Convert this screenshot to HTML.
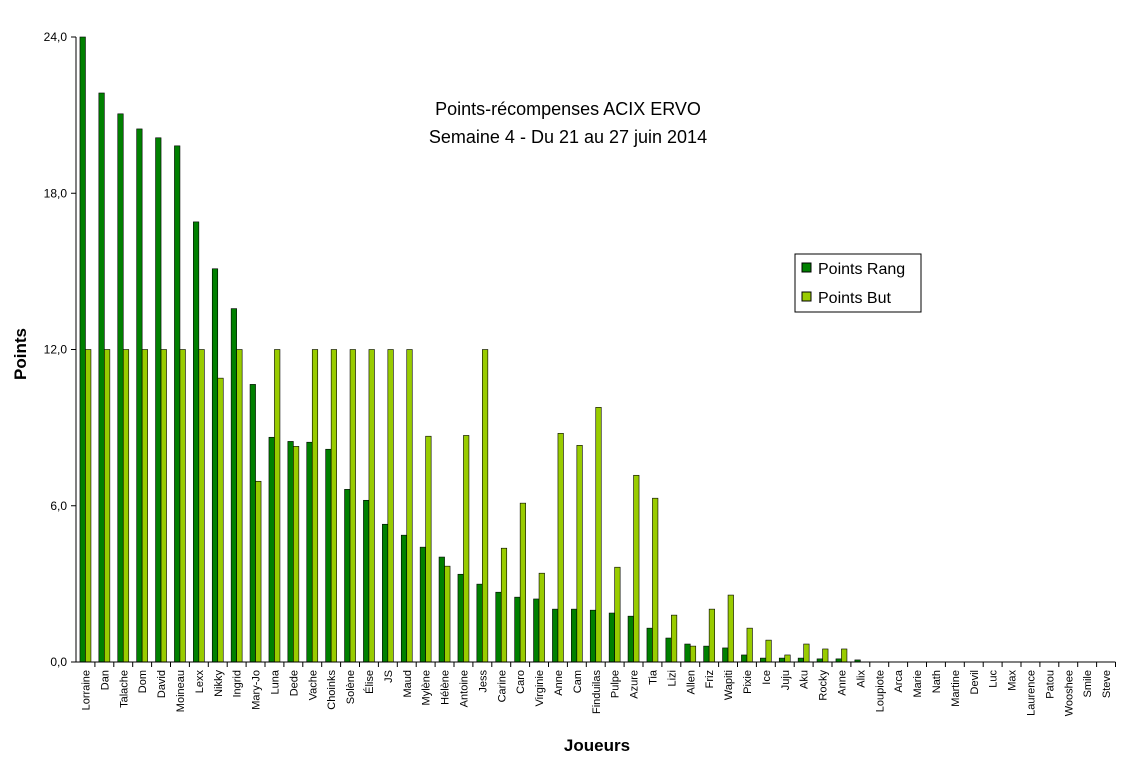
<!DOCTYPE html>
<html><head><meta charset="utf-8"><style>
body{margin:0;background:#fff;}
svg text{font-family:"Liberation Sans",Arial,sans-serif;}
</style></head><body>
<svg id="chart" width="1146" height="763" xmlns="http://www.w3.org/2000/svg">
<text x="568" y="115" font-size="18" text-anchor="middle">Points-récompenses ACIX ERVO</text>
<text x="568" y="143" font-size="18" text-anchor="middle">Semaine 4 - Du 21 au 27 juin 2014</text>
<text transform="translate(26,354) rotate(-90)" font-size="17" font-weight="bold" text-anchor="middle">Points</text>
<text x="597" y="751" font-size="17" font-weight="bold" text-anchor="middle">Joueurs</text>
<g id="plot"></g>
<g>
<rect x="795" y="254" width="126" height="58" fill="#fff" stroke="#000"/>
<rect x="802" y="263" width="9" height="9" fill="#008000" stroke="#000"/>
<text x="818" y="274" font-size="16">Points Rang</text>
<rect x="802" y="292" width="9" height="9" fill="#99cc00" stroke="#000"/>
<text x="818" y="303" font-size="16">Points But</text>
</g>
</svg>
<script>
const categories=["Lorraine","Dan","Talache","Dom","David","Moineau","Lexx","Nikky","Ingrid","Mary-Jo","Luna","Dede","Vache","Choinks","Solène","Élise","JS","Maud","Mylène","Hélène","Antoine","Jess","Carine","Caro","Virginie","Anne","Cam","Finduilas","Pulpe","Azure","Tia","Lizi","Allen","Friz","Wapiti","Pixie","Ice","Juju","Aku","Rocky","Anne","Alix","Loupiote","Arca","Marie","Nath","Martine","Devil","Luc","Max","Laurence","Patou","Wooshee","Smile","Steve"];
const pointsRang=[24,21.85,21.05,20.47,20.13,19.82,16.9,15.1,13.57,10.66,8.63,8.47,8.44,8.17,6.63,6.21,5.29,4.87,4.41,4.03,3.37,2.99,2.68,2.49,2.42,2.03,2.03,1.99,1.88,1.76,1.3,0.92,0.69,0.61,0.54,0.27,0.15,0.15,0.15,0.12,0.12,0.08,0,0,0,0,0,0,0,0,0,0,0,0,0];
const pointsBut=[12,12,12,12,12,12,12,10.9,12,6.94,12,8.28,12,12,12,12,12,12,8.67,3.68,8.7,12,4.37,6.1,3.41,8.78,8.32,9.78,3.64,7.17,6.29,1.8,0.61,2.03,2.57,1.3,0.84,0.27,0.69,0.5,0.5,0,0,0,0,0,0,0,0,0,0,0,0,0,0];
const yTicks=[0,6,12,18,24];
const yLabels=["0,0","6,0","12,0","18,0","24,0"];
const NS="http://www.w3.org/2000/svg";
const X0=76,Y0=662,YTOP=37,CW=18.9,BW=5.5;
const y=v=>Y0-(v/24)*(Y0-YTOP);
const xc=i=>X0+CW*i+CW/2;
const plot=document.getElementById('plot');
function mk(t,a){const e=document.createElementNS(NS,t);for(const k in a)e.setAttribute(k,a[k]);plot.appendChild(e);return e;}
categories.forEach((c,i)=>{
 const h1=Y0-y(pointsRang[i]);
 if(h1>0){const r=mk('rect',{x:xc(i)-BW,y:y(pointsRang[i]),width:BW,height:h1,fill:'#008000',stroke:'#000','stroke-width':0.6});
 
 }
 const h2=Y0-y(pointsBut[i]);
 if(h2>0){const r=mk('rect',{x:xc(i),y:y(pointsBut[i]),width:BW,height:h2,fill:'#99cc00',stroke:'#000','stroke-width':0.6});
 
 }
 const tk=mk('line',{x1:X0+CW*(i+1),x2:X0+CW*(i+1),y1:Y0,y2:Y0+5,stroke:'#000'});
 
 
 const t=mk('text',{transform:`translate(${xc(i)+4},${Y0+8}) rotate(-90)`,'font-size':11,'text-anchor':'end'});
 t.textContent=c;
 
 
});
yTicks.forEach((v,i)=>{
 const l=mk('line',{x1:X0-5,x2:X0,y1:y(v),y2:y(v),stroke:'#000'});
 
 
 const t=mk('text',{x:X0-9,y:y(v)+4,'font-size':12,'text-anchor':'end'});
 t.textContent=yLabels[i];
 
 
});
const ax=mk('line',{x1:X0,x2:X0,y1:YTOP,y2:Y0,stroke:'#000'});


const bx=mk('line',{x1:X0,x2:X0+CW*categories.length,y1:Y0,y2:Y0,stroke:'#000'});


</script>
</body></html>
